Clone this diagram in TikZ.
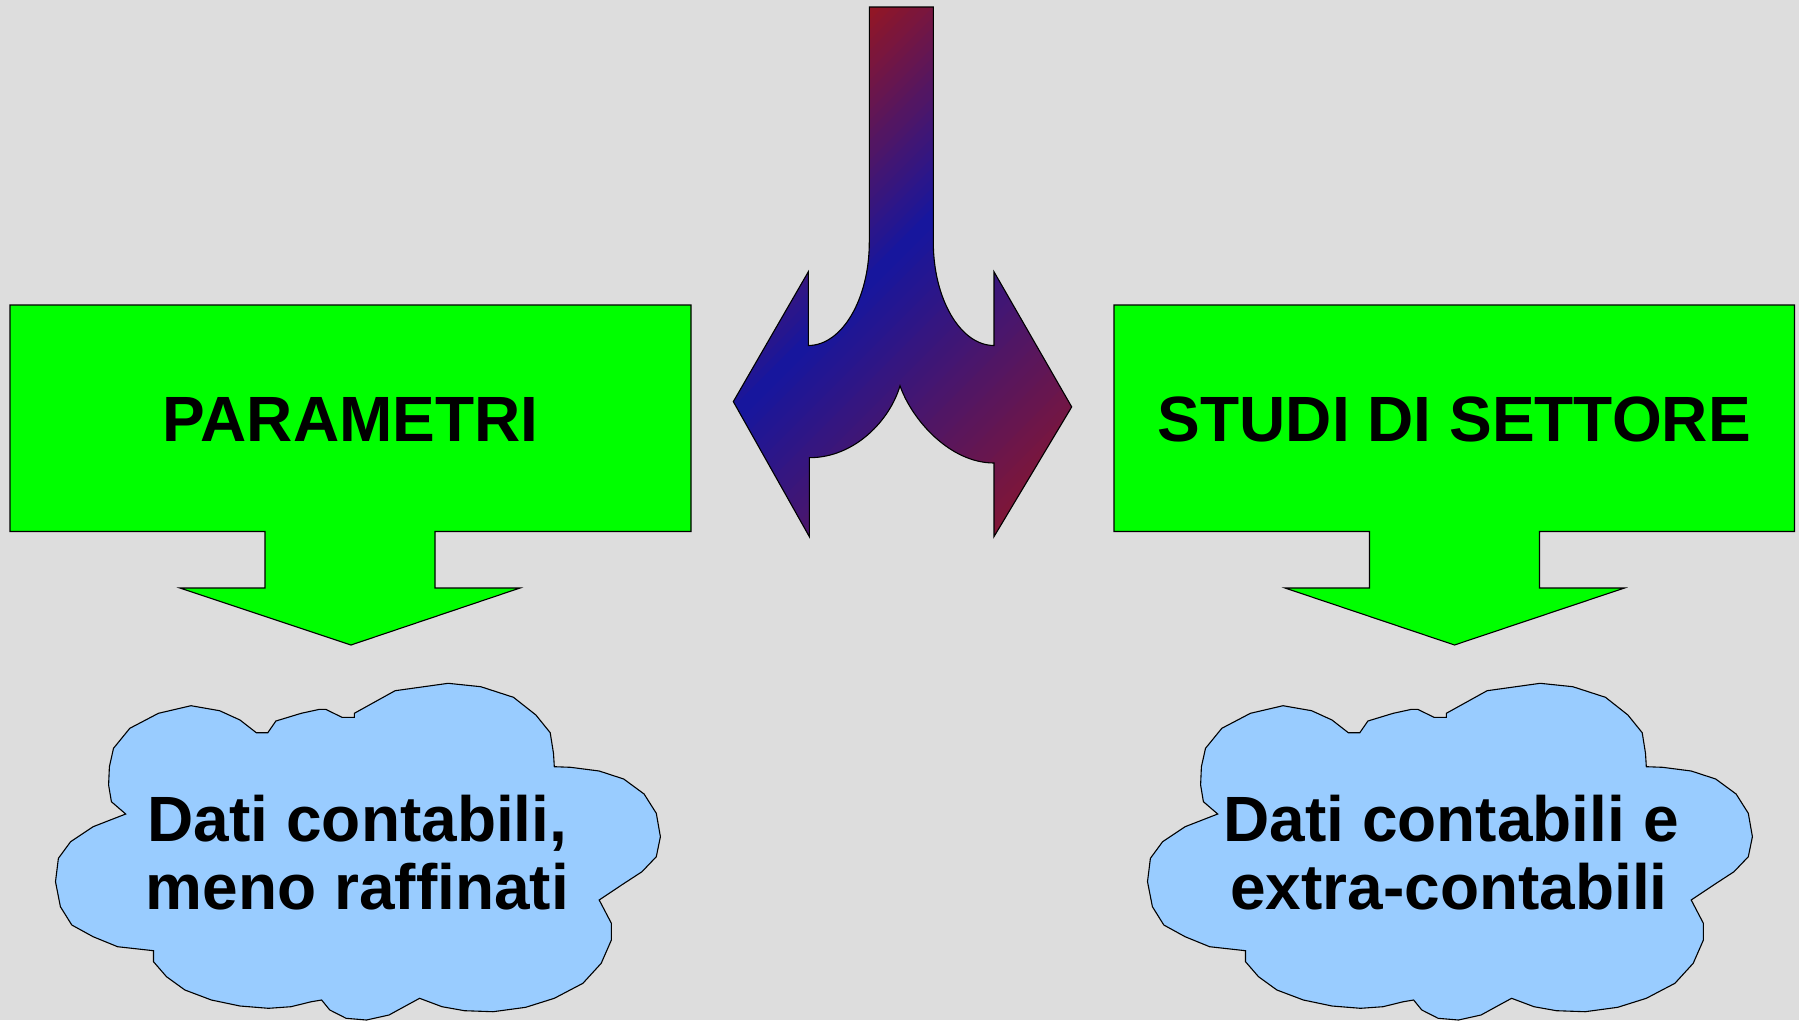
\documentclass[tikz,border=0pt]{standalone}
\usepackage{fontspec}
\setmainfont{Liberation Sans}
\definecolor{bggray}{RGB}{221,221,221}
\definecolor{boxgreen}{RGB}{0,255,0}
\definecolor{cloudblue}{RGB}{153,204,255}
\definecolor{dred}{RGB}{145,22,38}
\definecolor{dblue}{RGB}{22,22,158}
\newcommand\forkpath{(869.3,7) -- (933.3,7) -- (933.3,242)
  .. controls (933.3,299.1) and (960.5,345.5) .. (994,345.5)
  -- (994,271.8) -- (1071.7,406.9) -- (994,536.6) -- (994,463)
  .. controls (950,463) and (912,420) .. (900,385.8)
  .. controls (890,420) and (855,457.7) .. (809.3,457.7)
  -- (809.3,536.6) -- (733.3,401.6) -- (808.3,271.8) -- (808.3,345.5)
  .. controls (842,345.5) and (869.3,299.1) .. (869.3,242) -- cycle}
\tikzset{
  outline/.style={draw=black, line width=1.1pt, line join=miter},
  greenbox/.style={outline, fill=boxgreen},
  cloudshape/.style={outline, fill=cloudblue},
  lbl/.style={font=\fontsize{64}{68}\selectfont\bfseries, inner sep=0pt, anchor=base, text=black}
}
\begin{document}
\begin{tikzpicture}[x=1pt,y=-1pt]
\fill[bggray] (0,0) rectangle (1799,1020);
\useasboundingbox (0,0) rectangle (1799,1020);

% green callouts
\filldraw[greenbox] (10,305) -- (691,305) -- (691,531.5) -- (435,531.5) -- (435,588) -- (520,588)
  -- (351,645) -- (180,588) -- (265,588) -- (265,531.5) -- (10,531.5) -- cycle;
\filldraw[greenbox] (1114,305) -- (1794.5,305) -- (1794.5,531.5) -- (1539.5,531.5) -- (1539.5,588) -- (1624.5,588)
  -- (1454.5,645) -- (1285,588) -- (1369.5,588) -- (1369.5,531.5) -- (1114,531.5) -- cycle;
\node[lbl] (param) at (350.5,441.5) {PARAMETRI};
\node[lbl] (studi) at (1454.3,441.5) {STUDI DI SETTORE};

% clouds
\foreach \dx in {0,1092} {
\filldraw[cloudshape, shift={(\dx,0)}] (113.5,748.3) -- (129.8,728.3) -- (158.4,713.3) -- (191.0,705.7)
 -- (219.6,710.7) -- (240.0,720) -- (256.3,732.7) -- (267.8,732.7) -- (275.9,721) -- (301.2,713.3)
 -- (319.6,709.3) -- (325.7,709.3) -- (342.0,717.3) -- (354.3,717.3) -- (354.3,713.3) -- (395.1,690.7)
 -- (448.2,683.3) -- (480.8,686.7) -- (513.5,697.3) -- (535.9,715) -- (550.2,732.7) -- (553.5,753.3)
 -- (554.3,766.7) -- (570.6,767.3) -- (599.2,771) -- (623.7,779) -- (644.1,794) -- (656.3,813.3)
 -- (660.4,836.7) -- (656.3,856.7) -- (642.0,871.7) -- (621.6,885) -- (599.2,900) -- (611.4,923.3)
 -- (611.4,940) -- (601.2,963.3) -- (582.9,983.3) -- (554.3,998.3) -- (525.7,1007.3) -- (493.1,1011.7)
 -- (464.5,1010.7) -- (442.0,1006.7) -- (419.6,998.3) -- (407.3,1005) -- (389.0,1015) -- (366.5,1020)
 -- (346.1,1018.3) -- (329.8,1010) -- (321.6,1000) -- (311.4,1001.7) -- (291.0,1006.7) -- (268.6,1008.3)
 -- (240.0,1006) -- (211.4,1000) -- (184.9,990) -- (166.5,976.7) -- (153.5,961.7) -- (153.5,950.7)
 -- (117.6,946.7) -- (93.1,936.7) -- (71.8,925) -- (60.4,906.7) -- (55.5,881.7) -- (58.4,858.3)
 -- (70.6,841.7) -- (93.1,826.7) -- (125.7,814) -- (111.4,801.7) -- (108.6,785) -- (109.4,766.7) -- cycle;
}
\node[lbl] (l1) at (357.5,841.7) {Dati contabili,};
\node[lbl] (l2) at (357.5,909.3) {meno raffinati};
\node[lbl] (r1) at (1451,841.7) {Dati contabili e};
\node[lbl] (r2) at (1449,909.3) {extra-contabili};

% central fork arrow with gradient
\begin{scope}
\clip \forkpath;
\foreach \s in {720,730,...,1630} {
  \pgfmathtruncatemacro\p{ifthenelse(\s<1145, max(0,min(100,(1145-\s)/265*100)), max(0,min(100,(\s-1145)/435*100)))}
  \fill[dred!\p!dblue] (\s,0) -- ++(11,0) -- ++(-600,600) -- ++(-11,0) -- cycle;
}
\end{scope}
\draw[outline] \forkpath;
\end{tikzpicture}
\end{document}
